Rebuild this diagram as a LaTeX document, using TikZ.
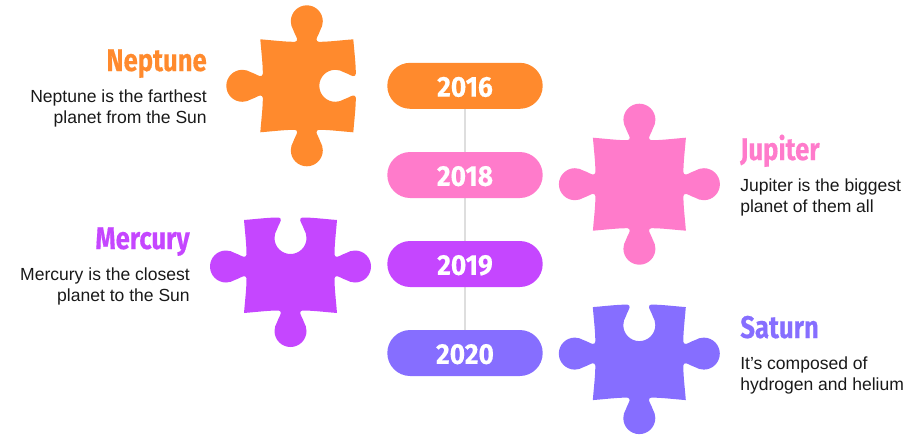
\documentclass[tikz,border=0pt]{standalone}
\usepackage{fontspec}
\usetikzlibrary{backgrounds}
\setmainfont{Liberation Sans}
\newfontfamily\titlefont[FakeStretch=0.82,FakeBold=0.35]{Fira Sans Bold}
\newfontfamily\yearfont[FakeStretch=0.92,FakeBold=0.35]{Fira Sans Bold}
\definecolor{cOrange}{HTML}{FF8A2D}
\definecolor{cPink}{HTML}{FF7BCB}
\definecolor{cPurple}{HTML}{C546FF}
\definecolor{cBlue}{HTML}{866EFF}
\definecolor{cLine}{HTML}{DEDEDE}
\definecolor{cText}{HTML}{191919}
\tikzset{
  pill/.style={fill=#1,rounded corners=17.2pt,minimum width=116.55pt,minimum height=34.5pt,inner sep=0pt,text=white,text height=16.2pt,text depth=0pt,font=\yearfont\fontsize{21.5}{24}\selectfont},
  heading/.style={text=#1,inner sep=0pt,font=\titlefont\fontsize{23.5}{26}\selectfont},
  bodyr/.style={inner sep=0pt,anchor=east,align=right,text=cText,font=\fontsize{13.15}{15.75}\selectfont},
  bodyl/.style={inner sep=0pt,anchor=west,align=left,text=cText,font=\fontsize{13.15}{15.75}\selectfont},
  link/.style={draw=cLine,line width=1.5pt},
}
% one point of a side: t along the side, n outwards from the nominal edge
\def\PP#1#2{({\cx+\ux*(#1)+\ox*(46.5+\sgn*(#2))},{\cy+\uy*(#1)+\oy*(46.5+\sgn*(#2))})}
\newcommand\addseg[6]{\xdef\piecepath{\piecepath .. controls \PP{#1}{#2} and \PP{#3}{#4} .. \PP{#5}{#6}}}
\newcommand\addside[5]{%
  \def\ux{#1}\def\uy{#2}\def\ox{#3}\def\oy{#4}\def\sgn{#5}%
  \addseg{-32}{-1.2}{-22}{-2.5}{-12}{-2.5}%
  \addseg{-10.5}{-2.5}{-9.3}{-1.2}{-9.7}{0.3}%
  \addseg{-10.1}{2.2}{-12.2}{5.5}{-13.6}{9.5}%
  \addseg{-15}{11.5}{-16}{15}{-16}{18}%
  \addseg{-16}{26.84}{-8.84}{34}{0}{34}%
  \addseg{8.84}{34}{16}{26.84}{16}{18}%
  \addseg{16}{15}{15}{11.5}{13.6}{9.5}%
  \addseg{12.2}{5.5}{10.1}{2.2}{9.7}{0.3}%
  \addseg{9.3}{-1.2}{10.5}{-2.5}{12}{-2.5}%
  \addseg{22}{-2.5}{32}{-1.2}{46.5}{0}%
}
% centre x, centre y, top, right, bottom, left (1 = tab, -1 = notch), colour
\newcommand\puzzle[7]{%
  \def\cx{#1}\def\cy{#2}%
  \def\ux{1}\def\uy{0}\def\ox{0}\def\oy{-1}\def\sgn{1}%
  \xdef\piecepath{\PP{-46.5}{0}}%
  \addside{1}{0}{0}{-1}{#3}%
  \addside{0}{1}{1}{0}{#4}%
  \addside{-1}{0}{0}{1}{#5}%
  \addside{0}{-1}{-1}{0}{#6}%
  \fill[#7] \piecepath -- cycle;
}
\begin{document}
\begin{tikzpicture}[x=0.75pt,y=-0.75pt]
\useasboundingbox (0,0) rectangle (923,436);
% pills and the line between them
\node[pill=cOrange] (p16) at (465,85.8) {2016};
\node[pill=cPink]   (p18) at (465,175) {2018};
\node[pill=cPurple] (p19) at (465,264) {2019};
\node[pill=cBlue]   (p20) at (465,353) {2020};
\begin{scope}[on background layer]
\draw[link] (p16) -- (p18);
\draw[link] (p18) -- (p19);
\draw[link] (p19) -- (p20);
\end{scope}
% puzzle pieces
\puzzle{306.8}{85.8}{1}{-1}{1}{1}{cOrange}
\puzzle{639.4}{184.2}{1}{1}{1}{1}{cPink}
\puzzle{290.5}{266.5}{-1}{1}{1}{1}{cPurple}
\puzzle{639.3}{353.6}{-1}{1}{1}{1}{cBlue}
% texts
\node[heading=cOrange,anchor=base east] (t1) at (207,71) {Neptune};
\node[bodyr] (b1) at (207,108.5) {Neptune is the farthest\\planet from the Sun};
\node[heading=cPink,anchor=base west] (t2) at (740,160) {Jupiter};
\node[bodyl] (b2) at (740,197) {Jupiter is the biggest\\planet of them all};
\node[heading=cPurple,anchor=base east] (t3) at (190,249) {Mercury};
\node[bodyr] (b3) at (190,286) {Mercury is the closest\\planet to the Sun};
\node[heading=cBlue,anchor=base west] (t4) at (740,338) {Saturn};
\node[bodyl] (b4) at (740,375) {It’s composed of\\hydrogen and helium};
\end{tikzpicture}
\end{document}
